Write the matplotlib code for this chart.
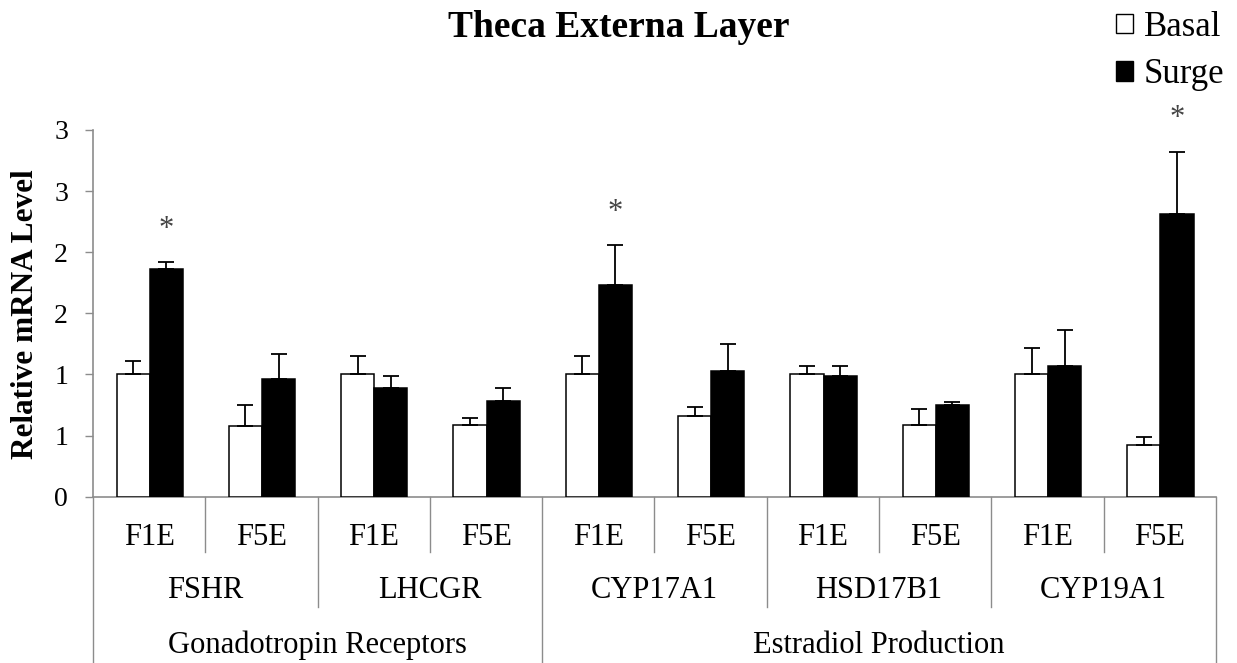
import matplotlib
matplotlib.use("Agg")
import matplotlib.pyplot as plt
from matplotlib.patches import Patch
import numpy as np

plt.rcParams['font.family'] = ['Liberation Serif', 'DejaVu Serif']

# Data
genes = ["FSHR", "LHCGR", "CYP17A1", "HSD17B1", "CYP19A1"]
follicles = ["F1E", "F5E"]
pathways = ["Gonadotropin Receptors", "Estradiol Production"]
pathway_span = [2, 3]  # number of genes per pathway

basal = [1.00, 0.58, 1.00, 0.59, 1.00, 0.66, 1.00, 0.59, 1.00, 0.42]
basal_err = [0.11, 0.17, 0.15, 0.055, 0.15, 0.07, 0.07, 0.125, 0.22, 0.07]
surge = [1.86, 0.96, 0.89, 0.78, 1.735, 1.03, 0.99, 0.75, 1.07, 2.31]
surge_err = [0.056, 0.21, 0.095, 0.106, 0.32, 0.22, 0.08, 0.025, 0.29, 0.51]
significant = [True, False, False, False, True, False, False, False, False, True]

ytick_vals = [0, 0.5, 1.0, 1.5, 2.0, 2.5, 3.0]
ytick_labels = ["0", "1", "1", "2", "2", "3", "3"]

n = len(basal)
x = np.arange(n)
bw = 0.295
grey = "#8c8c8c"

fig = plt.figure(figsize=(12.37, 6.63), dpi=100)
ax = fig.add_axes([0.0752, 0.2508, 0.9078, 0.5532])

err_kw = dict(ecolor="black", elinewidth=1.3, capsize=6, capthick=1.3)
ax.bar(x + 0.21, basal, bw, align="edge", color="white", edgecolor="black",
       linewidth=1.1, yerr=[np.zeros(n), basal_err], error_kw=err_kw, zorder=3)
ax.bar(x + 0.21 + bw, surge, bw, align="edge", color="black", edgecolor="black",
       linewidth=1.1, yerr=[np.zeros(n), surge_err], error_kw=err_kw, zorder=3)

for i in range(n):
    if significant[i]:
        ax.text(x[i] + 0.21 + 1.5 * bw, surge[i] + surge_err[i] + 0.27, "*",
                ha="center", va="center", fontsize=22, color="#444444",
                clip_on=False)

ax.set_xlim(0, n)
ax.set_ylim(0, 3)
ax.set_yticks(ytick_vals)
ax.set_yticklabels(ytick_labels, fontsize=20)
ax.tick_params(axis="y", direction="out", length=6, width=1, color=grey, pad=12)
ax.set_xticks([])
for s in ["top", "right"]:
    ax.spines[s].set_visible(False)
for s in ["left", "bottom"]:
    ax.spines[s].set_color(grey)
    ax.spines[s].set_linewidth(1.2)

fig.text(26 / 1237, 0.526, "Relative mRNA Level", rotation=90, ha="center",
         va="center", fontsize=22.5, fontweight="bold")
fig.text(619 / 1237, 1 - 37 / 663, "Theca Externa Layer", ha="center",
         va="baseline", fontsize=27, fontweight="bold")

# Multi-level category axis
tr = ax.get_xaxis_transform()
line_kw = dict(color=grey, linewidth=1.0, transform=tr, clip_on=False)
y_t1, y_t2, y_t3 = -0.1317, -0.2763, -0.4262
for i in range(n):
    ax.text(x[i] + 0.5, y_t1, follicles[i % 2], ha="center", va="baseline",
            fontsize=22, transform=tr)
for g, name in enumerate(genes):
    ax.text(2 * g + 1, y_t2, name, ha="center", va="baseline", fontsize=22,
            transform=tr)
start = 0
for p, name in enumerate(pathways):
    span = pathway_span[p] * 2
    ax.text(start + span / 2, y_t3, name, ha="center", va="baseline",
            fontsize=22, transform=tr)
    start += span

pathway_edges = set(np.cumsum([0] + [s * 2 for s in pathway_span]).tolist())
for b in range(n + 1):
    if b in pathway_edges:
        y_end = -0.46
    elif b % 2 == 0:
        y_end = -0.30
    else:
        y_end = -0.15
    ax.plot([b, b], [0, y_end], **line_kw)

handles = [Patch(facecolor="white", edgecolor="black", linewidth=1.0),
           Patch(facecolor="black", edgecolor="black", linewidth=1.0)]
fig.legend(handles, ["Basal", "Surge"], loc="upper right",
           bbox_to_anchor=(1226 / 1237, 1 - 9 / 663), frameon=False, fontsize=25,
           handlelength=0.5, handleheight=0.5, handletextpad=0.3,
           labelspacing=0.42, borderaxespad=0.0, borderpad=0.05)

fig.savefig("out.png", dpi=100)
